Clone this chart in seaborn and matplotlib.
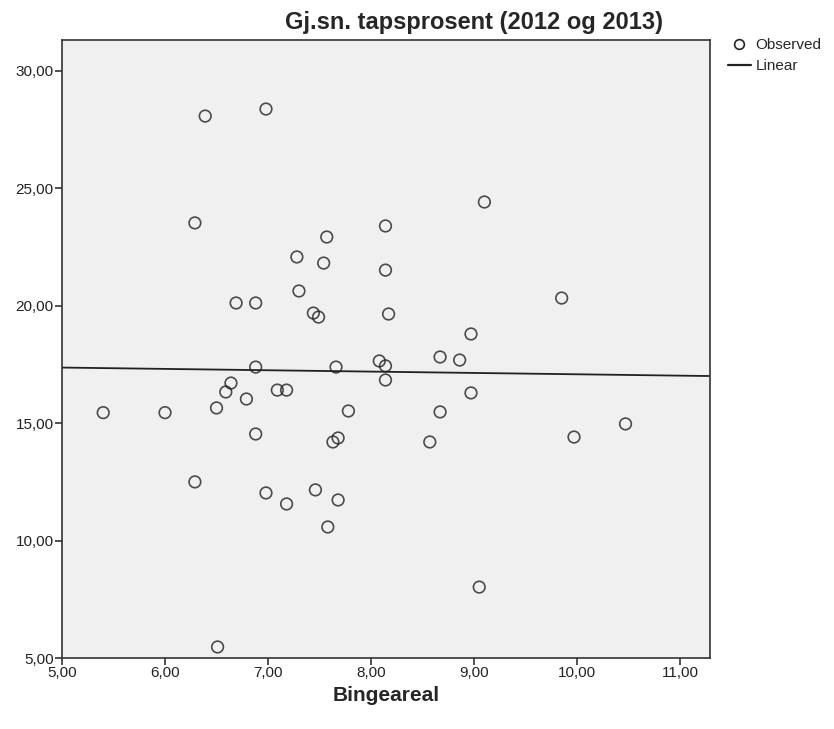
import matplotlib
matplotlib.use("Agg")
import matplotlib.pyplot as plt
from matplotlib.ticker import FuncFormatter
from matplotlib.lines import Line2D
import seaborn as sns
import pandas as pd

bingeareal = [5.40, 6.00, 6.29, 6.29, 6.39, 6.50, 6.51, 6.59, 6.64, 6.69,
              6.79, 6.88, 6.88, 6.88, 6.98, 6.98, 7.09, 7.18, 7.18, 7.28,
              7.30, 7.44, 7.49, 7.46, 7.54, 7.57, 7.58, 7.63, 7.68, 7.68,
              7.66, 7.78, 8.08, 8.14, 8.14, 8.14, 8.14, 8.17, 8.57, 8.67,
              8.67, 8.86, 8.97, 8.97, 9.05, 9.10, 9.85, 9.97, 10.47]
tapsprosent = [15.45, 15.45, 12.50, 23.53, 28.08, 15.65, 5.47, 16.33, 16.71, 20.12,
               16.03, 20.12, 17.39, 14.54, 28.38, 12.03, 16.41, 16.41, 11.56, 22.08,
               20.63, 19.69, 19.52, 12.16, 21.82, 22.93, 10.58, 14.20, 14.37, 11.73,
               17.39, 15.52, 17.65, 17.44, 16.84, 23.40, 21.52, 19.65, 14.20, 17.82,
               15.48, 17.69, 18.80, 16.29, 8.02, 24.42, 20.33, 14.41, 14.97]

title = "Gj.sn. tapsprosent (2012 og 2013)"
xlabel = "Bingeareal"
xticks = [5, 6, 7, 8, 9, 10, 11]
yticks = [5, 10, 15, 20, 25, 30]
legend_labels = ["Observed", "Linear"]

df = pd.DataFrame({"x": bingeareal, "y": tapsprosent})

sns.set_theme(style="ticks")
plt.rcParams["font.family"] = ["Liberation Sans Narrow", "Liberation Sans", "DejaVu Sans"]

fig = plt.figure(figsize=(8.34, 7.29), dpi=100)
ax = fig.add_axes([62/834, 1-658/729, (710-62)/834, (658-40)/729])
ax.set_facecolor("#F0F0F0")
ax.set_xlim(5, 11.29)
ax.set_ylim(5, 31.32)

sns.regplot(data=df, x="x", y="y", ax=ax, ci=None, truncate=False,
            scatter_kws=dict(s=70, facecolors="none", edgecolors="#222222", linewidths=1.2),
            line_kws=dict(color="#222222", lw=1.3))

ax.set_xticks(xticks)
ax.set_yticks(yticks)
fmt = FuncFormatter(lambda v, p: f"{v:.2f}".replace(".", ","))
ax.xaxis.set_major_formatter(fmt)
ax.yaxis.set_major_formatter(fmt)
ax.tick_params(axis="both", direction="out", length=5, width=1.2, color="#333333",
               labelsize=11, labelcolor="#222222", pad=1)
for s in ax.spines.values():
    s.set_color("#333333")
    s.set_linewidth(1.2)
ax.set_xlabel(xlabel, fontsize=15, fontweight="bold", labelpad=4)
ax.set_ylabel("")

fig.text(474/834, 1-23/729, title, ha="center", va="center", fontsize=17, fontweight="bold")

handles = [Line2D([], [], marker="o", ls="none", markerfacecolor="none",
                  markeredgecolor="#222222", markersize=7, markeredgewidth=1.2),
           Line2D([], [], color="#222222", lw=1.6)]
fig.legend(handles, legend_labels, loc="upper left", bbox_to_anchor=(728/834, 1-38/729),
           frameon=False, fontsize=11, handlelength=1.5, handletextpad=0.3,
           labelspacing=0.45, borderaxespad=0, borderpad=0)

fig.savefig("out.png", dpi=100, facecolor="white")
